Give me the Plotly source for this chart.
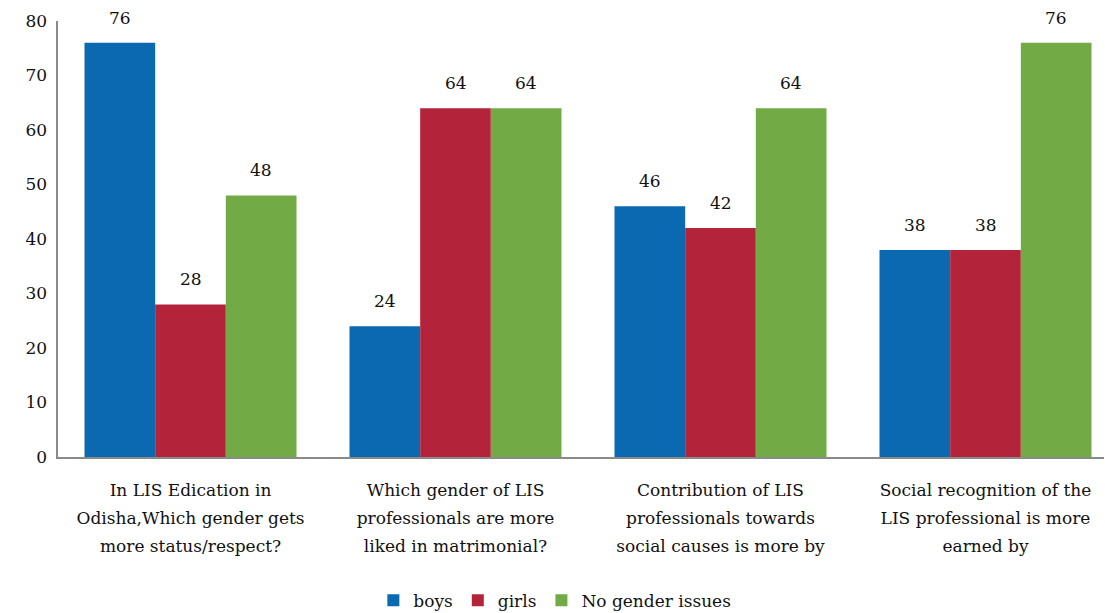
import plotly.graph_objects as go

categories = [
    ["In LIS Edication in", "Odisha,Which gender gets", "more status/respect?"],
    ["Which gender of LIS", "professionals are more", "liked in matrimonial?"],
    ["Contribution of LIS", "professionals towards", "social causes is more by"],
    ["Social recognition of the", "LIS professional is more", "earned by"],
]
boys = [76, 24, 46, 38]
girls = [28, 64, 42, 38]
no_gender = [48, 64, 64, 76]
series_names = ["boys", "girls", "No gender issues"]
colors = ["#0a69b0", "#b3243b", "#72ab45"]

FONT = "DejaVu Serif"
BARGAP = 0.2
series = [boys, girls, no_gender]
fig = go.Figure()
for name, vals, col in zip(series_names, series, colors):
    fig.add_trace(go.Bar(
        x=list(range(len(categories))), y=vals, name=name,
        marker=dict(color=col, line=dict(width=0)),
        cliponaxis=False,
    ))

# value labels placed above each bar (group offsets follow bar layout)
n = len(series)
w = (1 - BARGAP) / n
for k, vals in enumerate(series):
    for i, v in enumerate(vals):
        fig.add_annotation(x=i + (k - (n - 1) / 2) * w, y=v, text=str(v),
                           showarrow=False, yanchor="bottom", yshift=13,
                           font=dict(family=FONT, size=17, color="#111111"))

ticktext = ["<br>".join(f"<span style='font-size:17px'>{ln}</span>" for ln in c)
            for c in categories]

fig.update_layout(
    width=1105, height=613,
    margin=dict(l=58, r=1, t=21, b=156),
    paper_bgcolor="white", plot_bgcolor="white",
    barmode="group", bargap=BARGAP, bargroupgap=0,
    font=dict(family=FONT, size=17, color="#111111"),
    showlegend=True,
    legend=dict(orientation="h", x=0.475, xanchor="center", yref="container",
                y=0.02, yanchor="middle", font=dict(family=FONT, size=17),
                itemwidth=30, traceorder="normal"),
    xaxis=dict(
        tickmode="array", tickvals=list(range(len(categories))), ticktext=ticktext,
        range=[-0.5, -0.5 + 1046 / 265], showline=True, linecolor="#8a8a8a", linewidth=2,
        ticks="", showgrid=False, zeroline=False, ticklabelstandoff=11,
        tickfont=dict(family=FONT, size=21.5),
    ),
    yaxis=dict(
        range=[0, 80], dtick=10, showline=True, linecolor="#8a8a8a", linewidth=2,
        ticks="", showgrid=False, zeroline=False, ticksuffix="\u00a0",
        tickfont=dict(family=FONT, size=17),
    ),
)
fig.write_html("out.html", config={"displayModeBar": False},
               post_script="document.body.style.margin='0';document.body.style.overflow='hidden';")
